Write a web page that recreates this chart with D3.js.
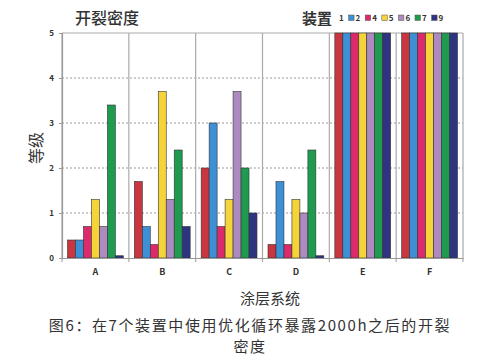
<!DOCTYPE html>
<html lang="zh">
<head>
<meta charset="utf-8">
<title>开裂密度</title>
<script src="https://cdn.jsdelivr.net/npm/d3@7"></script>
<style>
	body { margin: 0; background: #fff; }
	text { font-family: "Noto Sans CJK SC", "Noto Sans", sans-serif; fill: #333; }
</style>
</head>
<body>
<div id="chart"></div>
<script>
	// data
	var systems = ["A", "B", "C", "D", "E", "F"];
	var devices = ["1", "2", "4", "5", "6", "7", "9"];
	var colors = ["#c9363f", "#3d8fd6", "#dc2a6c", "#f4d438", "#ad8bc0", "#1f9b4f", "#2e3480"];
	var ratings = [
		[0.4, 0.4, 0.7, 1.3, 0.7, 3.4, 0.05],
		[1.7, 0.7, 0.3, 3.7, 1.3, 2.4, 0.7],
		[2.0, 3.0, 0.7, 1.3, 3.7, 2.0, 1.0],
		[0.3, 1.7, 0.3, 1.3, 1.0, 2.4, 0.05],
		[5, 5, 5, 5, 5, 5, 5],
		[5, 5, 5, 5, 5, 5, 5]
	];
	var yTicks = [0, 1, 2, 3, 4, 5];

	var width = 500, height = 363;
	var mLeft = 62, mRight = 463, mTop = 33, mBottom = 258;

	var svg = d3.select("#chart").append("svg")
		.attr("width", width)
		.attr("height", height);

	var x = d3.scaleBand().domain(systems).range([mLeft, mRight]);
	var xi = d3.scaleBand().domain(devices).range([5.5, x.bandwidth() - 5.5]);
	var y = d3.scaleLinear().domain([0, 5]).range([mBottom, mTop]);
	var color = d3.scaleOrdinal().domain(devices).range(colors);

	// dotted grid
	svg.append("g").selectAll("line")
		.data(yTicks.filter(function(d) { return d > 0 && d < 5; }))
		.enter().append("line")
		.attr("x1", mLeft).attr("x2", mRight)
		.attr("y1", function(d) { return y(d); })
		.attr("y2", function(d) { return y(d); })
		.attr("stroke", "#999")
		.attr("stroke-dasharray", "2,2");

	// group separators
	svg.append("g").selectAll("line")
		.data(systems.concat(["end"]))
		.enter().append("line")
		.attr("x1", function(d, i) { return mLeft + i * x.bandwidth(); })
		.attr("x2", function(d, i) { return mLeft + i * x.bandwidth(); })
		.attr("y1", mTop).attr("y2", mBottom + 4)
		.attr("stroke", "#aaa")
		.attr("stroke-width", 1.2);

	svg.append("line")
		.attr("x1", mLeft).attr("x2", mRight)
		.attr("y1", mTop).attr("y2", mTop)
		.attr("stroke", "#aaa");

	// bars
	var groups = svg.append("g").selectAll("g")
		.data(ratings)
		.enter().append("g")
		.attr("transform", function(d, i) { return "translate(" + x(systems[i]) + ",0)"; });

	groups.selectAll("rect")
		.data(function(d) { return d.map(function(v, j) { return { k: devices[j], v: v }; }); })
		.enter().append("rect")
		.attr("x", function(d) { return xi(d.k); })
		.attr("width", xi.bandwidth())
		.attr("y", function(d) { return y(d.v); })
		.attr("height", function(d) { return y(0) - y(d.v); })
		.attr("fill", function(d) { return color(d.k); })
		.attr("stroke", "#333")
		.attr("stroke-width", 0.6);

	// axes
	var yAxis = svg.append("g")
		.attr("transform", "translate(" + mLeft + ",0)")
		.call(d3.axisLeft(y).tickValues(yTicks).tickFormat(d3.format("d")).tickSize(3).tickPadding(5));
	yAxis.select(".domain").attr("stroke", "#999").attr("stroke-width", 1.2);
	yAxis.selectAll(".tick line").attr("stroke", "#999");
	yAxis.selectAll("text").attr("font-size", 8).attr("font-weight", "bold").attr("fill", "#444");

	var xAxis = svg.append("g")
		.attr("transform", "translate(0," + mBottom + ")")
		.call(d3.axisBottom(x).tickSize(0).tickPadding(11));
	xAxis.select(".domain").attr("stroke", "#999").attr("stroke-width", 1.2);
	xAxis.selectAll("text").attr("font-size", 9).attr("font-weight", "bold").attr("fill", "#444");

	// titles
	svg.append("text")
		.attr("x", 75).attr("y", 24)
		.attr("font-size", 16).attr("font-weight", 500)
		.text("开裂密度");

	svg.append("text")
		.attr("transform", "translate(42,148) rotate(-90)")
		.attr("text-anchor", "middle")
		.attr("font-size", 16)
		.text("等级");

	svg.append("text")
		.attr("x", 270).attr("y", 304)
		.attr("text-anchor", "middle")
		.attr("font-size", 15)
		.text("涂层系统");

	svg.append("text")
		.attr("x", 250).attr("y", 331)
		.attr("text-anchor", "middle")
		.attr("font-size", 15)
		.attr("letter-spacing", "1.6px")
		.text("图6：在7个装置中使用优化循环暴露2000h之后的开裂");

	svg.append("text")
		.attr("x", 250).attr("y", 352)
		.attr("text-anchor", "middle")
		.attr("font-size", 15)
		.attr("letter-spacing", "1.6px")
		.text("密度");

	// legend
	svg.append("text")
		.attr("x", 302).attr("y", 24)
		.attr("font-size", 15).attr("font-weight", "bold")
		.text("装置");

	var legend = svg.append("g").selectAll("g")
		.data(devices)
		.enter().append("g")
		.attr("transform", function(d, i) { return "translate(" + (338 + i * 16.6) + ",0)"; });

	legend.filter(function(d, i) { return i > 0; })
		.append("rect")
		.attr("x", -6).attr("y", 15)
		.attr("width", 5.5).attr("height", 5.5)
		.attr("fill", function(d) { return color(d); })
		.attr("stroke", "#555")
		.attr("stroke-width", 0.5);

	legend.append("text")
		.attr("x", 1).attr("y", 21)
		.attr("font-size", 8).attr("font-weight", "bold")
		.text(function(d) { return d; });
</script>
</body>
</html>
